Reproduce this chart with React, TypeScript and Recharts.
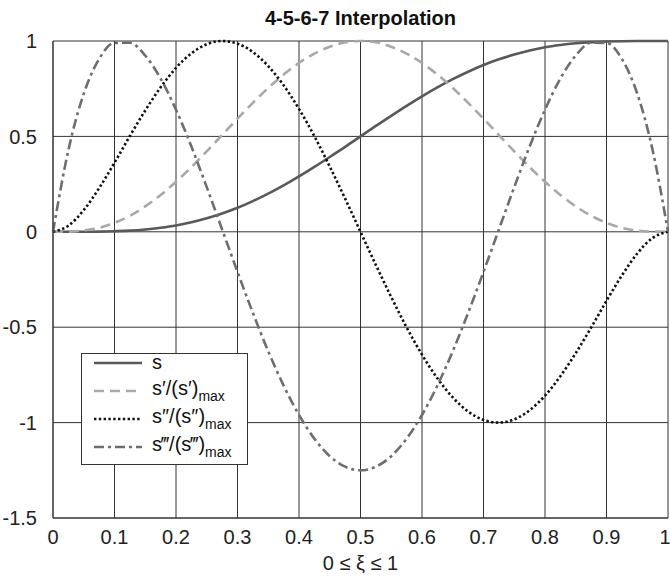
import { LineChart, Line, XAxis, YAxis, CartesianGrid, Legend, Label } from 'recharts';

// sample positions along xi
const XI = [
  0, 0.025, 0.05, 0.075, 0.1, 0.125, 0.15, 0.175, 0.2, 0.225, 0.25, 0.275, 0.3, 0.325, 0.35, 0.375, 0.4,
  0.425, 0.45, 0.475, 0.5, 0.525, 0.55, 0.575, 0.6, 0.625, 0.65, 0.675, 0.7, 0.725, 0.75, 0.775, 0.8,
  0.825, 0.85, 0.875, 0.9, 0.925, 0.95, 0.975, 1,
];

// s
const S = [
  0, 0, 0, 0.001, 0.003, 0.006, 0.012, 0.021, 0.033, 0.05, 0.071, 0.096, 0.126, 0.161, 0.2, 0.243, 0.29,
  0.34, 0.392, 0.445, 0.5, 0.555, 0.608, 0.66, 0.71, 0.757, 0.8, 0.839, 0.874, 0.904, 0.929, 0.95, 0.967,
  0.979, 0.988, 0.994, 0.997, 0.999, 1, 1, 1,
];

// s'/(s')max
const S1 = [
  0, 0.001, 0.007, 0.021, 0.047, 0.084, 0.133, 0.193, 0.262, 0.339, 0.422, 0.507, 0.593, 0.676, 0.754,
  0.824, 0.885, 0.934, 0.97, 0.993, 1, 0.993, 0.97, 0.934, 0.885, 0.824, 0.754, 0.676, 0.593, 0.507,
  0.422, 0.339, 0.262, 0.193, 0.133, 0.084, 0.047, 0.021, 0.007, 0.001, 0,
];

// s''/(s'')max
const S2 = [
  0, 0.032, 0.114, 0.229, 0.362, 0.502, 0.636, 0.757, 0.859, 0.935, 0.983, 1, 0.986, 0.942, 0.868, 0.768,
  0.644, 0.501, 0.342, 0.174, 0, -0.174, -0.342, -0.501, -0.644, -0.768, -0.868, -0.942, -0.986, -1,
  -0.983, -0.935, -0.859, -0.757, -0.636, -0.502, -0.362, -0.229, -0.114, -0.032, 0,
];

// s'''/(s''')max
const S3 = [
  0, 0.428, 0.724, 0.906, 0.99, 0.991, 0.924, 0.803, 0.64, 0.447, 0.234, 0.012, -0.21, -0.425, -0.626,
  -0.806, -0.96, -1.084, -1.176, -1.231, -1.25, -1.231, -1.176, -1.084, -0.96, -0.806, -0.626, -0.425,
  -0.21, 0.012, 0.234, 0.447, 0.64, 0.803, 0.924, 0.991, 0.99, 0.906, 0.724, 0.428, 0,
];

const X_TICKS = [0, 0.1, 0.2, 0.3, 0.4, 0.5, 0.6, 0.7, 0.8, 0.9, 1];
const Y_TICKS = [-1.5, -1, -0.5, 0, 0.5, 1];

const data = XI.map((xi, i) => ({ xi, s: S[i], s1: S1[i], s2: S2[i], s3: S3[i] }));

const FONT = '"Liberation Sans", Arial, Helvetica, sans-serif';

const SERIES = [
  { key: 's', color: '#595959', width: 2.6, dash: undefined as string | undefined, primes: '' },
  { key: 's1', color: '#a8a8a8', width: 2.6, dash: '10 6', primes: '\u2032' },
  { key: 's2', color: '#111111', width: 2.6, dash: '2.4 2.4', primes: '\u2033' },
  { key: 's3', color: '#6e6e6e', width: 2.6, dash: '10 4 3 4', primes: '\u2034' },
];

const LegendBox = () => (
  <div
    style={{
      border: '1px solid #333',
      background: '#fff',
      width: 167,
      height: 112,
      boxSizing: 'border-box',
      padding: '0 0 0 12px',
      fontFamily: FONT,
      fontSize: 20,
      color: '#111',
    }}
  >
    <div style={{ position: 'relative', top: -5 }}>
      {SERIES.map((sr) => (
        <div key={sr.key} style={{ display: 'flex', alignItems: 'center', height: 28 }}>
          <svg width={50} height={10} style={{ marginRight: 8, flex: 'none' }}>
            <line x1={0} y1={5} x2={48} y2={5} stroke={sr.color} strokeWidth={sr.width} strokeDasharray={sr.dash} />
          </svg>
          {sr.primes === '' ? (
            <span style={{ lineHeight: 1, position: 'relative', top: -1 }}>s</span>
          ) : (
            <span style={{ lineHeight: 1, position: 'relative', top: -1, whiteSpace: 'nowrap' }}>
              s{sr.primes}/(s{sr.primes})
              <sub style={{ fontSize: 14, verticalAlign: -6 }}>max</sub>
            </span>
          )}
        </div>
      ))}
    </div>
  </div>
);

export default function App() {
  return (
    <div style={{ position: 'absolute', left: 0, top: 0, width: 670, height: 576, background: '#fff' }}>
      <div
        style={{
          position: 'absolute',
          left: 53,
          width: 615,
          top: 6,
          lineHeight: '24px',
          textAlign: 'center',
          fontFamily: FONT,
          fontWeight: 'bold',
          fontSize: 20,
          color: '#111',
        }}
      >
        4-5-6-7 Interpolation
      </div>
      <LineChart width={670} height={576} data={data} margin={{ top: 41, right: 2, bottom: 0, left: 0 }}>
        <CartesianGrid stroke="#333" strokeWidth={1} horizontalValues={Y_TICKS} verticalValues={X_TICKS} />
        <XAxis
          dataKey="xi"
          type="number"
          domain={[0, 1]}
          ticks={X_TICKS}
          height={58}
          tickLine={false}
          axisLine={{ stroke: '#333' }}
          tickMargin={6}
          tick={{ fill: '#222', fontSize: 20, fontFamily: FONT }}
        >
          <Label
            content={(props: any) => {
              const vb = props.viewBox || { x: 53, width: 615 };
              return (
                <text
                  x={vb.x + vb.width / 2}
                  y={570}
                  textAnchor="middle"
                  fontFamily={FONT}
                  fontSize={20}
                  fill="#222"
                >
                  0 ≤ ξ ≤ 1
                </text>
              );
            }}
          />
        </XAxis>
        <YAxis
          type="number"
          domain={[-1.5, 1]}
          ticks={Y_TICKS}
          width={53}
          tickLine={false}
          axisLine={{ stroke: '#333' }}
          tickMargin={10}
          tick={{ fill: '#222', fontSize: 20, fontFamily: FONT }}
        />
        {SERIES.map((sr) => (
          <Line
            key={sr.key}
            dataKey={sr.key}
            type="monotone"
            stroke={sr.color}
            strokeWidth={sr.width}
            strokeDasharray={sr.dash}
            dot={false}
            activeDot={false}
            isAnimationActive={false}
          />
        ))}
        <Legend
          layout="horizontal"
          verticalAlign="middle"
          align="center"
          content={() => <LegendBox />}
          wrapperStyle={{ left: 81, top: 353, width: 167, height: 112 }}
        />
      </LineChart>
    </div>
  );
}
